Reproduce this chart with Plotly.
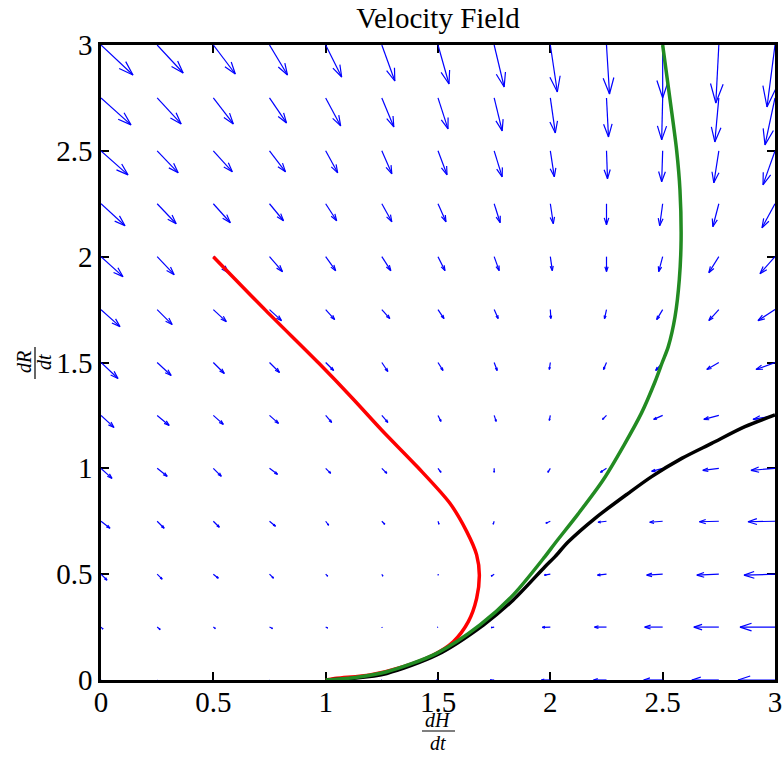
import plotly.graph_objects as go

# ---------------- data ----------------
GRID_H = [0, 0.25, 0.5, 0.75, 1, 1.25, 1.5, 1.75, 2, 2.25, 2.5, 2.75, 3]
GRID_R = [0, 0.25, 0.5, 0.75, 1, 1.25, 1.5, 1.75, 2, 2.25, 2.5, 2.75, 3]

# velocity components (as drawn, arbitrary quiver units), rows = R from 0 to 3, cols = H from 0 to 3
U_R000 = [0.3, 0.3, 0.3, 0.3, 0.3, -0.5, -1.5, -4, -9, -13, -19, -27, -37]
U_R025 = [2, 3, 2, 3, 2, 0.3, -0.5, -3, -8, -12, -18, -25, -35]
U_R050 = [6, 5, 5, 4, 2, 1, 0.3, -3, -6, -9, -16, -22, -31]
U_R075 = [9, 7, 6, 6, 3, 3, 1, -1, -4.5, -8.5, -13, -19.5, -27]
U_R100 = [11, 10, 8, 8, 5, 5, 3, 0, -2.5, -6, -11, -16, -24]
U_R125 = [13, 12, 10, 9, 6, 6, 3, 2, -1, -4, -9, -15, -22]
U_R150 = [17, 14, 11, 10, 8, 6, 5, 3, -1, -3, -7, -12, -19]
U_R175 = [19, 15, 13, 12, 9, 8, 6, 4, 0.5, -2, -6, -10, -17]
U_R200 = [22, 17, 15, 13, 10, 9, 7, 5, 2, 0, -4, -10, -15]
U_R225 = [24, 19, 17, 14, 11, 10, 8, 6, 3, 0, -3, -6, -13]
U_R250 = [27, 21, 19, 16, 12, 10, 9, 8, 4, 1, -1, -5, -12]
U_R275 = [30, 24, 20, 17, 15, 12, 10, 8, 5, 2, -1, -4, -10]
U_R300 = [32, 26, 22, 18, 16, 13, 11, 10, 7, 3, 0, -3, -8]

V_R000 = [0, 0, 0, 0, 0, 0, 0, 0, 0, 0, 0, 0, 0]
V_R025 = [-2, -2.5, -1.5, -1.5, -1, -0.5, -0.3, -0.5, -0.3, 0, 0, 0, 0]
V_R050 = [-6, -5, -4, -4, -2, -2, -1, -2, -1, -1, -1, -1, -1]
V_R075 = [-7, -7, -6, -5, -4, -3, -3, -3, -2, -1, -1, -0.5, -0.5]
V_R100 = [-10, -8, -8, -6, -5, -5, -4, -4, -4, -4, -3, -2, -2]
V_R125 = [-12, -10, -9, -8, -7, -7, -6, -6, -5, -4, -4, -4, -4]
V_R150 = [-16, -13, -11, -10, -8, -9, -8, -8, -7, -7, -8, -7, -7]
V_R175 = [-17, -15, -12, -11, -10, -9, -9, -9, -9, -9, -10, -11, -11]
V_R200 = [-20, -18, -16, -15, -14, -14, -14, -14, -14, -15, -15, -16, -17]
V_R225 = [-22, -20, -19, -17, -17, -18, -18, -19, -20, -21, -22, -23, -24]
V_R250 = [-24, -22, -21, -21, -22, -23, -24, -26, -26, -28, -31, -32, -34]
V_R275 = [-27, -26, -26, -25, -28, -29, -31, -33, -35, -39, -42, -44, -47]
V_R300 = [-30, -28, -29, -30, -32, -36, -39, -42, -47, -49, -53, -58, -62]

U_ROWS = [U_R000, U_R025, U_R050, U_R075, U_R100, U_R125, U_R150,
          U_R175, U_R200, U_R225, U_R250, U_R275, U_R300]
V_ROWS = [V_R000, V_R025, V_R050, V_R075, V_R100, V_R125, V_R150,
          V_R175, V_R200, V_R225, V_R250, V_R275, V_R300]

RED_H = [0.5, 0.734, 0.97, 1.12, 1.25, 1.41, 1.553, 1.628, 1.672, 1.684,
         1.672, 1.635, 1.568, 1.479, 1.346, 1.197, 1.049, 1.0]
RED_R = [2.0, 1.745, 1.496, 1.33, 1.18, 1.005, 0.835, 0.701, 0.591, 0.496,
         0.386, 0.276, 0.181, 0.118, 0.063, 0.024, 0.008, 0.0]

BLACK_H = [3.0, 2.866, 2.718, 2.585, 2.451, 2.347, 2.199, 2.080, 2.021, 1.976,
           1.835, 1.702, 1.494, 1.272, 1.123, 1.0]
BLACK_R = [1.252, 1.197, 1.118, 1.047, 0.961, 0.882, 0.764, 0.653, 0.583, 0.535,
           0.378, 0.260, 0.118, 0.031, 0.008, 0.0]

GREEN_H = [2.5, 2.533, 2.562, 2.577, 2.582, 2.574, 2.555, 2.525, 2.498, 2.466,
           2.406, 2.328, 2.235, 2.124, 2.021, 1.976, 1.835, 1.687, 1.494, 1.272,
           1.123, 1.0]
GREEN_R = [3.0, 2.74, 2.504, 2.315, 2.079, 1.890, 1.716, 1.575, 1.500, 1.409,
           1.262, 1.110, 0.945, 0.785, 0.646, 0.583, 0.402, 0.260, 0.126, 0.039,
           0.011, 0.0]

X_TICKS = [0, 0.5, 1, 1.5, 2, 2.5, 3]
X_TICK_LABELS = ["0", "0.5", "1", "1.5", "2", "2.5", "3"]
Y_TICKS = [0, 0.5, 1, 1.5, 2, 2.5, 3]
Y_TICK_LABELS = ["0", "0.5", "1", "1.5", "2", "2.5", "3"]

# ---------------- layout geometry ----------------
W, H = 782, 759
L, R, T, B = 101, 7, 45, 79
PW, PH = W - L - R, H - T - B
SX = 3.0 / PW   # quiver units -> data units
SY = 3.0 / PH
ALPHA, BETA = 0.33, 0.33

def px2paper(px, py):
    return (px - L) / PW, (H - B - py) / PH

# ---------------- quiver ----------------
qx, qy = [], []
for j, r0 in enumerate(GRID_R):
    for i, h0 in enumerate(GRID_H):
        u = U_ROWS[j][i]
        v = V_ROWS[j][i]
        tx, ty = u, v
        qx += [h0, h0 + tx * SX, None]
        qy += [r0, r0 + ty * SY, None]
        b1x = tx - ALPHA * (u + BETA * v)
        b1y = ty - ALPHA * (v - BETA * u)
        b2x = tx - ALPHA * (u - BETA * v)
        b2y = ty - ALPHA * (v + BETA * u)
        qx += [h0 + b1x * SX, h0 + tx * SX, h0 + b2x * SX, None]
        qy += [r0 + b1y * SY, r0 + ty * SY, r0 + b2y * SY, None]

fig = go.Figure()
fig.add_trace(go.Scatter(x=qx, y=qy, mode="lines",
                         line=dict(color="#0000ff", width=1.2),
                         hoverinfo="skip", showlegend=False))
fig.add_trace(go.Scatter(x=RED_H, y=RED_R, mode="lines",
                         line=dict(color="#ff0000", width=3.5, shape="spline", smoothing=0.8),
                         showlegend=False))
fig.add_trace(go.Scatter(x=BLACK_H, y=BLACK_R, mode="lines",
                         line=dict(color="#000000", width=3.5, shape="spline", smoothing=0.8),
                         showlegend=False))
fig.add_trace(go.Scatter(x=GREEN_H, y=GREEN_R, mode="lines",
                         line=dict(color="#228b22", width=3.5, shape="spline", smoothing=0.8),
                         showlegend=False))

serif = "Liberation Serif, Times New Roman, serif"
axis_common = dict(range=[0, 3], showgrid=False, zeroline=False, showline=True,
                   linecolor="black", linewidth=2.5, mirror="allticks",
                   ticks="inside", ticklen=8, tickwidth=2, tickcolor="black",
                   layer="below traces", automargin=False, ticklabeloverflow="allow",
                   tickfont=dict(family=serif, size=29, color="black"))

fig.update_layout(
    width=W, height=H,
    margin=dict(l=L, r=R, t=T, b=B, pad=0, autoexpand=False),
    paper_bgcolor="white", plot_bgcolor="white",
    title=dict(text="Velocity Field", x=0.5, xref="paper", xanchor="center",
               y=1 - 18 / H, yref="container", yanchor="middle",
               font=dict(family=serif, size=29, color="black")),
    xaxis=dict(tickvals=X_TICKS, ticktext=X_TICK_LABELS, ticklabelstandoff=-6, **axis_common),
    yaxis=dict(tickvals=Y_TICKS, ticktext=Y_TICK_LABELS, **axis_common),
)

# fraction axis labels
frac_font = dict(family=serif, size=20, color="black")
ann = []
x0, y0 = px2paper(438, 720)
ann.append(dict(text="<i>dH</i>", x=x0, y=y0, xref="paper", yref="paper",
                showarrow=False, xanchor="center", yanchor="middle", font=frac_font))
x0, y0 = px2paper(438, 743)
ann.append(dict(text="<i>dt</i>", x=x0, y=y0, xref="paper", yref="paper",
                showarrow=False, xanchor="center", yanchor="middle", font=frac_font))
x0, y0 = px2paper(24, 362)
ann.append(dict(text="<i>dR</i>", x=x0, y=y0, xref="paper", yref="paper", textangle=-90,
                showarrow=False, xanchor="center", yanchor="middle", font=frac_font))
x0, y0 = px2paper(44, 362)
ann.append(dict(text="<i>dt</i>", x=x0, y=y0, xref="paper", yref="paper", textangle=-90,
                showarrow=False, xanchor="center", yanchor="middle", font=frac_font))
fig.update_layout(annotations=ann)

bx0, by0 = px2paper(422, 731)
bx1, by1 = px2paper(455, 731)
cx0, cy0 = px2paper(35, 347)
cx1, cy1 = px2paper(35, 379)
fig.update_layout(shapes=[
    dict(type="line", xref="paper", yref="paper", x0=bx0, y0=by0, x1=bx1, y1=by1,
         line=dict(color="black", width=1.2)),
    dict(type="line", xref="paper", yref="paper", x0=cx0, y0=cy0, x1=cx1, y1=cy1,
         line=dict(color="black", width=1.2)),
])

fig.write_html("out.html")
